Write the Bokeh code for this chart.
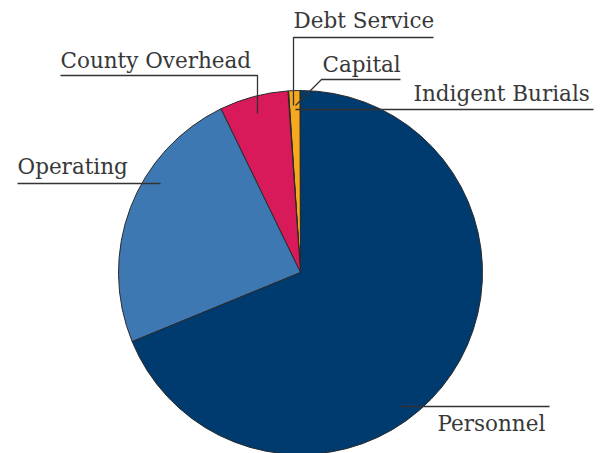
import math
from bokeh.plotting import figure
from bokeh.models import Range1d, ColumnDataSource
from bokeh.core.properties import value
from bokeh.embed import file_html
from bokeh.resources import INLINE

# data (percent shares), ordered anticlockwise starting at 12 o'clock
categories = ["Indigent Burials", "Capital", "Debt Service", "County Overhead", "Operating", "Personnel"]
shares = [0.05, 1.0, 0.05, 6.1, 24.0, 68.8]
colors = ["#f6a81f", "#f6a81f", "#f6a81f", "#d81a5b", "#3e78b2", "#003b6f"]

W, H = 612, 453
SH = 453  # screen height used to convert screen-y to data-y

def sy(y):
    return SH - y

p = figure(width=W, height=H, output_backend="svg", toolbar_location=None,
           x_range=Range1d(0, W), y_range=Range1d(SH - H, SH),
           min_border=0)
p.axis.visible = False
p.grid.visible = False
p.outline_line_color = None
p.background_fill_color = "white"

total = sum(shares)
starts, ends = [], []
a = math.pi / 2
for s in shares:
    starts.append(a)
    a += 2 * math.pi * s / total
    ends.append(a)

src = ColumnDataSource(dict(cat=categories, start=starts, end=ends, color=colors))
cx, cy, r = 300, sy(272), 182
p.wedge(x=cx, y=cy, radius=r, start_angle="start", end_angle="end", direction="anticlock",
        fill_color="color", line_color="#2a2a2a", line_width=1, source=src)

# labels
label_text = ["Debt Service", "Capital", "Indigent Burials", "County Overhead", "Operating", "Personnel"]
label_x = [293, 322, 413, 60, 17, 437]
label_y = [sy(20), sy(64), sy(93), sy(60), sy(166), sy(423)]
p.text(x=label_x, y=label_y, text=label_text, text_font=value("DejaVu Serif"),
       text_font_size="21.5px", text_color="#383838", text_baseline="alphabetic",
       text_align="left")

# leader lines
xs = [
    [433, 293, 293],
    [400, 321, 295],
    [593, 295],
    [60, 257, 257],
    [17, 160],
    [400, 549],
]
ys = [
    [sy(37), sy(37), sy(105)],
    [sy(79), sy(79), sy(105)],
    [sy(109), sy(109)],
    [sy(75), sy(75), sy(113)],
    [sy(183), sy(183)],
    [sy(406), sy(406)],
]
p.multi_line(xs=xs, ys=ys, line_color="#333333", line_width=1.3)

open("out.html", "w").write(file_html(p, INLINE))
